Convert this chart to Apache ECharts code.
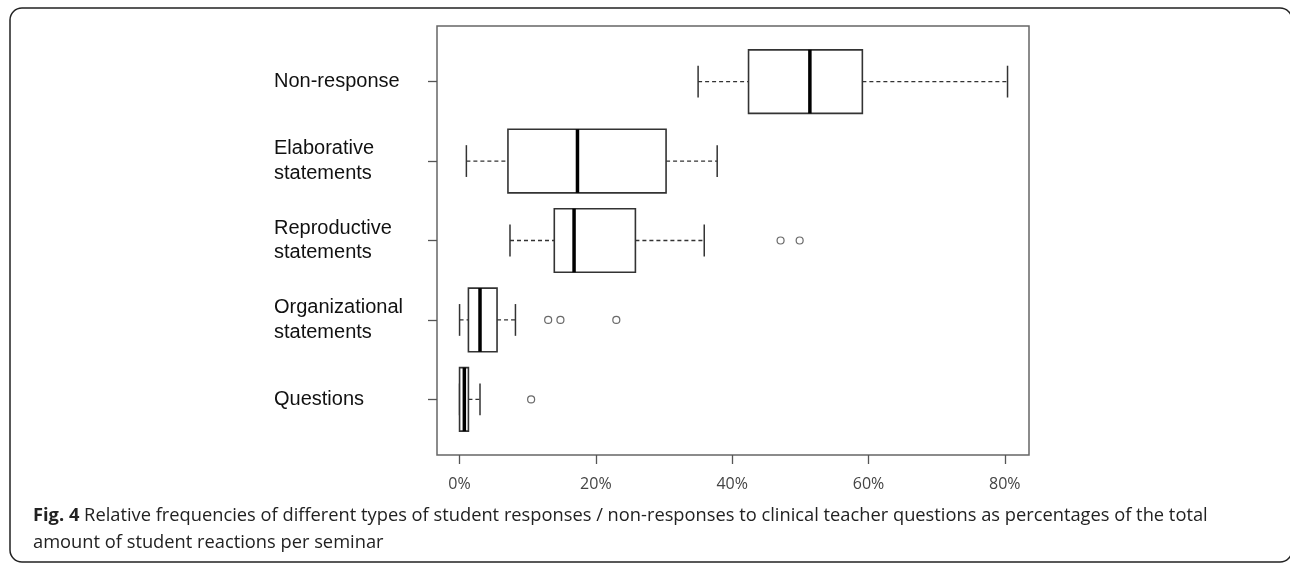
<!DOCTYPE html>
<html><head><meta charset="utf-8">
<script src="https://cdn.jsdelivr.net/npm/echarts@6/dist/echarts.min.js"></script>
<style>html,body{margin:0;padding:0;background:#fff}#c{width:1290px;height:563px}</style>
</head><body><div id="c"></div>
<script>
// Categories from bottom (position 1) to top (position 5)
const categories = ['Questions', 'Organizational\nstatements', 'Reproductive\nstatements', 'Elaborative\nstatements', 'Non-response'];
const whiskerLow  = [0,   0,   7.4, 1.0, 35.0];
const q1          = [0,   1.3, 13.9, 7.1, 42.4];
const median      = [0.7, 3.0, 16.8, 17.3, 51.4];
const q3          = [1.3, 5.5, 25.8, 30.3, 59.1];
const whiskerHigh = [3.0, 8.2, 35.9, 37.8, 80.4];
// Outliers: category position (1-based) and value
const outlierCategory = [1, 2, 2, 2, 3, 3];
const outlierValue    = [10.5, 13.0, 14.8, 23.0, 47.1, 49.9];
const xTicks = [0, 20, 40, 60, 80];
const yTicks = [1, 2, 3, 4, 5];
const captionBold = 'Fig. 4';
const captionLine1 = 'Relative frequencies of different types of student responses / non-responses to clinical teacher questions as percentages of the total';
const captionLine2 = 'amount of student reactions per seminar';

const boxData = categories.map((c, i) => [i + 1, whiskerLow[i], q1[i], median[i], q3[i], whiskerHigh[i]]);
const outlierData = outlierValue.map((v, i) => [v, outlierCategory[i]]);

const chart = echarts.init(document.getElementById('c'), null, {renderer: 'canvas'});

function renderBox(params, api) {
  const y = api.value(0);
  const lo = api.coord([api.value(1), y]);
  const a = api.coord([api.value(2), y]);
  const m = api.coord([api.value(3), y]);
  const b = api.coord([api.value(4), y]);
  const hi = api.coord([api.value(5), y]);
  const h = api.size([0, 0.4])[1];
  const c = api.size([0, 0.2])[1];
  const cy = a[1];
  const dash = {stroke: '#333', lineWidth: 1.3, lineDash: [4, 3], fill: null};
  const solid = {stroke: '#333', lineWidth: 1.5, fill: null};
  return {
    type: 'group',
    children: [
      {type: 'line', shape: {x1: lo[0], y1: cy, x2: a[0], y2: cy}, style: dash},
      {type: 'line', shape: {x1: b[0], y1: cy, x2: hi[0], y2: cy}, style: dash},
      {type: 'line', shape: {x1: lo[0], y1: cy - c, x2: lo[0], y2: cy + c}, style: solid},
      {type: 'line', shape: {x1: hi[0], y1: cy - c, x2: hi[0], y2: cy + c}, style: solid},
      {type: 'rect', shape: {x: a[0], y: cy - h, width: b[0] - a[0], height: 2 * h}, style: {fill: '#fff', stroke: '#333', lineWidth: 1.6}},
      {type: 'line', shape: {x1: m[0], y1: cy - h, x2: m[0], y2: cy + h}, style: {stroke: '#000', lineWidth: 3.5}}
    ]
  };
}

chart.setOption({
  animation: false,
  backgroundColor: '#fff',
  title: {
    text: '{b|' + captionBold + '} ' + captionLine1 + '\n' + captionLine2,
    left: 28, top: 497,
    textStyle: {
      fontFamily: 'Open Sans', fontSize: 18.3, fontWeight: 'normal', color: '#222', lineHeight: 27,
      rich: {b: {fontFamily: 'Open Sans', fontSize: 18.3, fontWeight: 'bold', color: '#222', lineHeight: 27}}
    }
  },
  graphic: [
    {type: 'rect', silent: true, z: -1,
     shape: {x: 10, y: 8, width: 1282, height: 554, r: 12},
     style: {fill: null, stroke: '#222', lineWidth: 1.5}}
  ],
  grid: {left: 437, top: 26, width: 592, height: 429, show: true, borderColor: '#666', borderWidth: 1.5, backgroundColor: 'transparent'},
  xAxis: {
    type: 'value', min: -3.31, max: 83.55,
    splitLine: {show: false},
    axisLine: {show: false, onZero: false},
    axisTick: {show: true, customValues: xTicks, length: 9, lineStyle: {color: '#555', width: 1.3}},
    axisLabel: {customValues: xTicks, formatter: v => v + '%', margin: 21, fontSize: 16, color: '#444', fontFamily: 'Open Sans'}
  },
  yAxis: {
    type: 'value', min: 0.3, max: 5.7,
    splitLine: {show: false},
    axisLine: {show: false, onZero: false},
    axisTick: {show: true, customValues: yTicks, length: 9, lineStyle: {color: '#555', width: 1.3}},
    axisLabel: {customValues: yTicks, formatter: v => categories[Math.round(v) - 1], align: 'left', margin: 163,
      fontSize: 20, lineHeight: 24.5, color: '#111', fontFamily: 'Liberation Sans', padding: [3, 0, 0, 0]}
  },
  series: [
    {type: 'custom', renderItem: renderBox, data: boxData, encode: {x: [1, 2, 3, 4, 5], y: 0}, z: 2},
    {type: 'scatter', data: outlierData, symbol: 'circle', symbolSize: 7,
     itemStyle: {color: '#fff', borderColor: '#444', borderWidth: 1.2}, z: 3}
  ]
});
</script></body></html>
